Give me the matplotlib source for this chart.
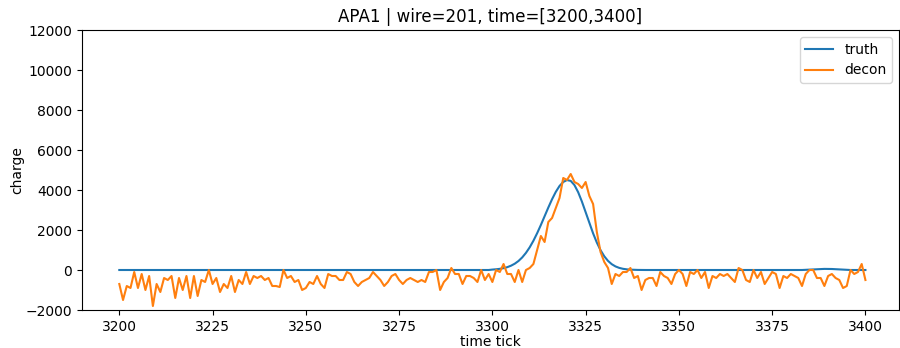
import numpy as np
import matplotlib
matplotlib.use("Agg")
import matplotlib.pyplot as plt

# time ticks 3200..3400
ticks = np.arange(3200, 3401)

# simulated (truth) charge, only the non-zero stretches
truth_peak_ticks = np.arange(3300, 3340)
truth_peak_vals = [21, 36, 58, 92, 142, 215, 315, 450, 629, 856,
                   1132, 1461, 1838, 2251, 2686, 3123, 3538, 3905, 4201, 4402,
                   4496, 4456, 4247, 3889, 3422, 2892, 2350, 1833, 1374, 990,
                   685, 455, 291, 179, 106, 60, 33, 17, 9, 4]
truth_bump_ticks = np.arange(3384, 3396)
truth_bump_vals = [10, 20, 30, 40, 50, 55, 55, 50, 40, 25, 15, 5]

# deconvolved charge
decon = [
    -700, -1500, -800, -900, -100, -900, -200, -1000, -300, -1800,
    -700, -1100, -400, -500, -300, -1400, -400, -1000, -300, -1400,
    -300, -1300, -500, -600, 0, -700, -400, -1100, -700, -900,
    -300, -1100, -500, -700, -100, -700, -300, -400, -300, -500,
    -400, -800, -800, -850, 0, -400, -300, -600, -500, -1000,
    -900, -600, -700, -300, -700, -900, -200, -300, -300, -500,
    -500, -100, -200, -600, -800, -600, -500, -400, -100, -300,
    -500, -800, -600, -300, -200, -500, -700, -500, -400, -500,
    -600, -500, -600, -100, -100, 0, -1000, -600, -400, 100,
    -200, -200, -700, -300, -300, -400, -600, 0, -500, -200,
    -600, 0, -100, 300, -200, -200, -600, 0, -600, 0,
    100, 300, 1000, 1700, 1400, 2400, 2600, 3100, 3600, 4600,
    4500, 4800, 4400, 4300, 4100, 4400, 3700, 3300, 1900, 900,
    400, 100, -700, -200, -300, -100, -100, 100, -400, -300,
    -1000, -500, -400, -400, -800, -100, -300, -400, -700, -200,
    0, -200, -800, -100, -200, 0, -400, -100, -900, -300,
    -400, -200, -300, -200, -400, -600, 100, 0, -500, -600,
    0, -400, -100, -700, -400, -100, -200, -900, -300, -400,
    -200, -300, -400, -800, -200, 0, 0, -400, -400, -800,
    -300, -200, -400, -500, -900, -800, 0, -200, -100, 300,
    -500,
]

truth = np.zeros(len(ticks))
truth[truth_peak_ticks - 3200] = truth_peak_vals
truth[truth_bump_ticks - 3200] = truth_bump_vals

fig = plt.figure(figsize=(9, 3.48), dpi=100)
ax = fig.add_axes([82 / 900, 38 / 348, 817 / 900, 280 / 348])

ax.plot(ticks, truth, label="truth")
ax.plot(ticks, decon, label="decon")

ax.set_xlim(3190, 3409)
ax.set_ylim(-2000, 12000)
ax.set_xlabel("time tick", labelpad=1)
ax.set_ylabel("charge", labelpad=1)
ax.set_title("APA1 | wire=201, time=[3200,3400]")
ax.legend(loc="upper right")

fig.savefig("out.png", dpi=100)
